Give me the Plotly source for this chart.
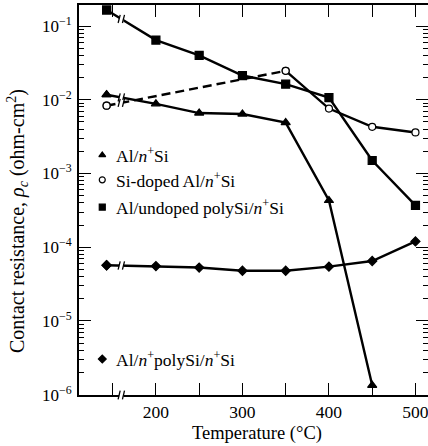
import numpy as np
import plotly.graph_objects as go

# ---- data ----
break_x = 160             # position of the axis break

al_nsi_T = [143, 200, 250, 300, 350, 400, 450]
al_nsi_rho = [0.0117, 0.0088, 0.0066, 0.0064, 0.0049, 0.00043, 1.34e-6]

sidoped_T = [143, 350, 400, 450, 500]
sidoped_rho = [0.0083, 0.0247, 0.0076, 0.0043, 0.0036]

undoped_T = [143, 200, 250, 300, 350, 400, 450, 500]
undoped_rho = [0.165, 0.0645, 0.040, 0.0213, 0.0163, 0.0107, 0.0015, 0.00037]

npoly_T = [143, 200, 250, 300, 350, 400, 450, 500]
npoly_rho = [5.7e-5, 5.55e-5, 5.3e-5, 4.8e-5, 4.8e-5, 5.45e-5, 6.5e-5, 1.2e-4]

legend_labels = ["Al/<i>n</i><sup>+</sup>Si",
                 "Si-doped Al/<i>n</i><sup>+</sup>Si",
                 "Al/undoped polySi/<i>n</i><sup>+</sup>Si",
                 "Al/<i>n</i><sup>+</sup>polySi/<i>n</i><sup>+</sup>Si"]
legend_symbols = ["triangle-up", "circle", "square", "diamond"]
legend_fill = ["black", "white", "black", "black"]
legend_y = [0.00178, 0.00082, 0.00035, 3.05e-6]

y_tickvals = [1e-6, 1e-5, 1e-4, 1e-3, 1e-2, 1e-1]
y_ticktext = ["10<sup>−6</sup>", "10<sup>−5</sup>", "10<sup>−4</sup>",
              "10<sup>−3</sup>", "10<sup>−2</sup>", "10<sup>−1</sup>"]
y_minor = [k * 10.0 ** e for e in range(-6, 0) for k in range(2, 10)]

x_title = "Temperature (°C)"
y_title = "Contact resistance, <i>ρ</i><sub><i>c</i></sub> (ohm-cm<sup>2</sup>)"

FONT = "Liberation Serif"
LW = 2.4

fig = go.Figure()

def mk(symbol, size, fill):
    return dict(symbol=symbol, size=size, color=fill, line=dict(color="black", width=1.2))

def line(xs, ys, dash="solid", symbol="circle", size=7, fill="black"):
    fig.add_trace(go.Scatter(x=xs, y=ys, mode="lines+markers",
                             line=dict(color="black", width=LW, dash=dash),
                             marker=mk(symbol, size, fill),
                             showlegend=False, cliponaxis=False))

line(undoped_T, undoped_rho, symbol="square", size=8)
line(al_nsi_T, al_nsi_rho, symbol="triangle-up", size=8)
line(npoly_T, npoly_rho, symbol="diamond", size=7)
# Si-doped: dashed up to 350, solid afterwards
line(sidoped_T[:2], sidoped_rho[:2], dash="9px,5px", symbol="circle", size=7, fill="white")
line(sidoped_T[1:], sidoped_rho[1:], symbol="circle", size=7, fill="white")

# break marks on each series
def break_marks(xs, ys):
    lx = np.log10(ys[0]) + (np.log10(ys[1]) - np.log10(ys[0])) * (break_x - xs[0]) / (xs[1] - xs[0])
    yc = 10 ** lx
    fig.add_trace(go.Scatter(x=[break_x - 2.5, break_x + 2.5], y=[yc, yc], mode="lines",
                             line=dict(color="white", width=6), showlegend=False, hoverinfo="skip"))
    for dx in (-2.5, 2.5):
        fig.add_trace(go.Scatter(x=[break_x + dx - 1.2, break_x + dx + 1.2],
                                 y=[yc * 10 ** -0.055, yc * 10 ** 0.055], mode="lines",
                                 line=dict(color="black", width=1.3), showlegend=False, hoverinfo="skip"))

break_marks(undoped_T, undoped_rho)
break_marks(al_nsi_T, al_nsi_rho)
break_marks(npoly_T, npoly_rho)
break_marks(sidoped_T, sidoped_rho)
# redraw first markers above break whites
for xs, ys, sym, sz, fl in [(undoped_T, undoped_rho, "square", 8, "black"),
                            (al_nsi_T, al_nsi_rho, "triangle-up", 8, "black"),
                            (npoly_T, npoly_rho, "diamond", 7, "black"),
                            (sidoped_T, sidoped_rho, "circle", 7, "white")]:
    fig.add_trace(go.Scatter(x=xs[:1], y=ys[:1], mode="markers", marker=mk(sym, sz, fl),
                             showlegend=False, cliponaxis=False))

# legend as text with markers
for lab, sym, fl, ly in zip(legend_labels, legend_symbols, legend_fill, legend_y):
    fig.add_trace(go.Scatter(x=[138], y=[ly], mode="markers", marker=mk(sym, 6, fl),
                             showlegend=False))
    fig.add_annotation(x=152, y=np.log10(ly), xref="x", yref="y", text=lab, showarrow=False,
                       xanchor="left", yanchor="middle", font=dict(family=FONT, size=17.5, color="black"))

# axis titles
fig.add_annotation(x=-0.175, y=0.446, xref="paper", yref="paper", text=y_title, textangle=-90,
                   showarrow=False, xanchor="center", yanchor="middle",
                   font=dict(family=FONT, size=20, color="black"))
fig.add_annotation(x=0.51, y=-0.0987, xref="paper", yref="paper", text=x_title,
                   showarrow=False, xanchor="center", yanchor="middle",
                   font=dict(family=FONT, size=18.5, color="black"))

# invisible trace to carry the minor-tick axis
fig.add_trace(go.Scatter(x=[300], y=[1e-3], yaxis="y2", mode="markers",
                         marker=dict(opacity=0), showlegend=False, hoverinfo="skip"))

# x-axis break
fig.add_shape(type="rect", xref="x", yref="paper", x0=break_x - 2.5, x1=break_x + 2.5, y0=-0.01, y1=0.01,
              fillcolor="white", line=dict(width=0), layer="above")
for dx in (-2.5, 2.5):
    fig.add_shape(type="line", xref="x", yref="paper", x0=break_x + dx - 1.2, x1=break_x + dx + 1.2,
                  y0=-0.011, y1=0.011, line=dict(color="black", width=1.3), layer="above")

axis_common = dict(showline=True, linecolor="black", linewidth=2, mirror="allticks", ticks="inside",
                   tickcolor="black", showgrid=False, zeroline=False, automargin=False,
                   ticklabeloverflow="allow")

Y_RANGE = [-6.004, -0.715]

fig.update_xaxes(range=[111.1, 514.5], dtick=100, tick0=0, ticklen=12, tickwidth=1.2,
                 tickfont=dict(family=FONT, size=17.5, color="black"),
                 minor=dict(ticks="inside", dtick=50, tick0=0, ticklen=9, tickcolor="black", tickwidth=1.2),
                 **axis_common)
fig.update_yaxes(type="log", range=Y_RANGE, tickmode="array", tickvals=y_tickvals, ticktext=y_ticktext,
                 ticklen=12, tickwidth=1.2, ticklabelstandoff=2,
                 tickfont=dict(family=FONT, size=17, color="black"),
                 **axis_common)
fig.update_layout(yaxis2=dict(type="log", range=Y_RANGE, overlaying="y", side="left", tickmode="array",
                              tickvals=y_minor, showticklabels=False, ticks="inside", ticklen=5,
                              tickwidth=1, tickcolor="black", mirror="allticks", showline=False,
                              showgrid=False, zeroline=False, automargin=False))

fig.update_layout(width=428, height=446, margin=dict(l=79, r=0, t=5, b=51),
                  plot_bgcolor="white", paper_bgcolor="white", showlegend=False,
                  font=dict(family=FONT, color="black"))

fig.write_html("out.html", config={"displayModeBar": False},
               post_script="document.body.style.margin='0';document.body.style.padding='0';")
